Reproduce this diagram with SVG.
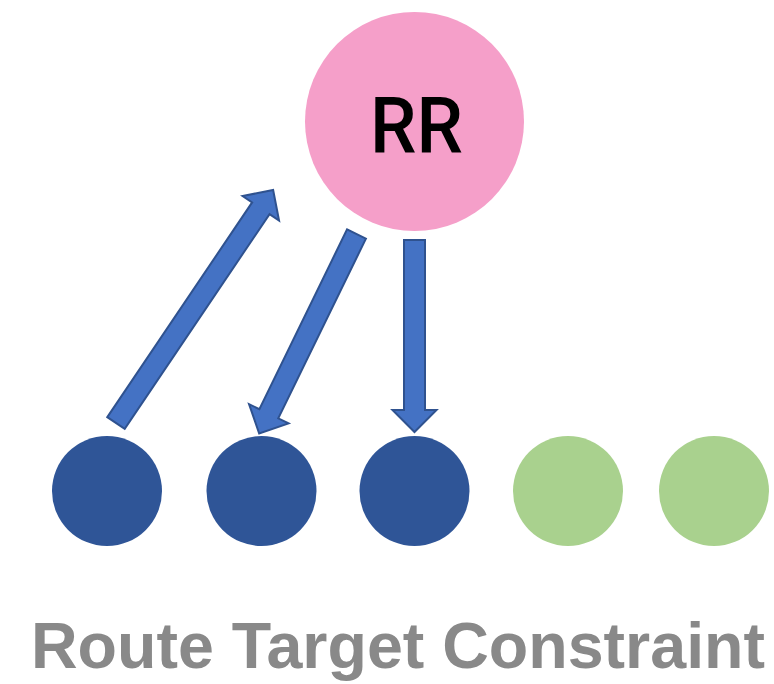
<svg xmlns="http://www.w3.org/2000/svg" width="774" height="684" viewBox="0 0 774 684">
  <style>
    .rr { fill: #F59FC9; }
    .member { fill: #2F5597; }
    .other { fill: #A9D18E; }
    .arrow { fill: #4472C4; stroke: #2F528F; stroke-width: 2; stroke-linejoin: miter; }
    .rr-label { font-family: Roboto, "Liberation Sans", sans-serif; font-size: 77px; font-weight: 500; fill: #000000; }
    .title { font-family: "Liberation Sans", Arial, sans-serif; font-size: 64px; font-weight: bold; fill: #898989; }
  </style>
  <rect width="774" height="684" fill="#FFFFFF"/>

  <g id="rr">
    <circle class="rr" cx="414.5" cy="121.5" r="109.5"/>
    <text class="rr-label" x="416.5" y="152" text-anchor="middle" textLength="93" lengthAdjust="spacingAndGlyphs">RR</text>
  </g>

  <g id="client-1"><circle class="member" cx="107" cy="491" r="55"/></g>
  <g id="client-2"><circle class="member" cx="261.5" cy="491" r="55"/></g>
  <g id="client-3"><circle class="member" cx="414.5" cy="491" r="55"/></g>
  <g id="client-4"><circle class="other" cx="568" cy="491" r="55"/></g>
  <g id="client-5"><circle class="other" cx="714" cy="491" r="55"/></g>

  <!-- block arrows: tail at origin, pointing along +x -->
  <g id="connectors">
    <path class="arrow" transform="translate(116,423) rotate(-56)" d="M0,-10.5 L259,-10.5 L259,-22 L281,0 L259,22 L259,10.5 L0,10.5 Z"/>
    <path class="arrow" transform="translate(356.5,234) rotate(116)" d="M0,-10.5 L200,-10.5 L200,-22 L222,0 L200,22 L200,10.5 L0,10.5 Z"/>
    <path class="arrow" transform="translate(414.5,240) rotate(90)" d="M0,-10.5 L170,-10.5 L170,-22 L192,0 L170,22 L170,10.5 L0,10.5 Z"/>
  </g>

  <text class="title" x="398" y="668" text-anchor="middle" textLength="734" lengthAdjust="spacingAndGlyphs">Route Target Constraint</text>
</svg>
